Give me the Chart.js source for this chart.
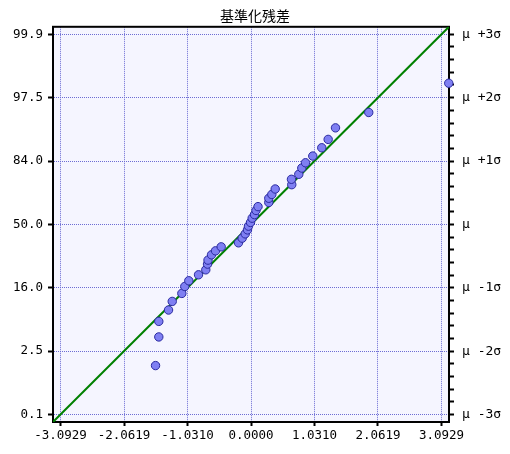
<!DOCTYPE html>
<html>
<head>
<meta charset="utf-8">
<script src="https://cdn.jsdelivr.net/npm/chart.js@4/dist/chart.umd.min.js"></script>
<style>
  html, body { margin: 0; padding: 0; background: #fff; }
  canvas { display: block; }
</style>
</head>
<body>
<canvas id="npp" width="510" height="454"></canvas>
<script>
// standardized residuals (x) and their normal scores (y)
const residuals = [
  -1.550, -1.497, -1.497, -1.339, -1.279, -1.123, -1.075, -1.010, -0.852, -0.734,
  -0.706, -0.698, -0.641, -0.576, -0.484, -0.203, -0.143, -0.094, -0.057, -0.041,
  -0.008, 0.019, 0.057, 0.081, 0.114, 0.289, 0.289, 0.338, 0.393, 0.662,
  0.657, 0.776, 0.825, 0.885, 1.003, 1.149, 1.253, 1.372, 1.912, 3.211
];
const normalScores = [
  -2.297, -1.831, -1.578, -1.393, -1.253, -1.123, -1.010, -0.917, -0.820, -0.739,
  -0.646, -0.581, -0.495, -0.430, -0.365, -0.300, -0.224, -0.154, -0.089, -0.029,
  0.032, 0.101, 0.159, 0.227, 0.289, 0.357, 0.425, 0.487, 0.576, 0.646,
  0.734, 0.815, 0.917, 1.003, 1.112, 1.247, 1.383, 1.571, 1.821, 2.297
];

const axisRange = [-3.215, 3.215];
const tickVals = [-3.0929, -2.0619, -1.0310, 0, 1.0310, 2.0619, 3.0929];
const xTickLabels = ['-3.0929', '-2.0619', '-1.0310', '0.0000', '1.0310', '2.0619', '3.0929'];
const pctLabels = ['0.1', '2.5', '16.0', '50.0', '84.0', '97.5', '99.9'];
const sigmaLabels = ['\u03bc -3\u03c3', '\u03bc -2\u03c3', '\u03bc -1\u03c3', '\u03bc', '\u03bc +1\u03c3', '\u03bc +2\u03c3', '\u03bc +3\u03c3'];

const points = residuals.map((r, i) => ({x: r, y: normalScores[i]}));
const refLine = axisRange.map(v => ({x: v, y: v}));

// right axis gets 4 minor ticks between each labelled one
const minorSteps = 5;
const sigmaTicks = [];
for (let i = 0; i < tickVals.length - 1; i++) {
  for (let k = 0; k < minorSteps; k++) {
    sigmaTicks.push(tickVals[i] + (tickVals[i + 1] - tickVals[i]) * k / minorSteps);
  }
}
sigmaTicks.push(tickVals[tickVals.length - 1]);

const tickFont = {family: '"DejaVu Sans Mono", monospace', size: 12.5};
const gridColor = '#6c6cd4';

const plotFrame = {
  id: 'plotFrame',
  beforeDraw(chart) {
    const {ctx, chartArea: a} = chart;
    ctx.save();
    ctx.fillStyle = '#f5f5ff';
    ctx.fillRect(a.left, a.top, a.right - a.left, a.bottom - a.top);
    ctx.restore();
  },
  beforeDatasetsDraw(chart) {
    const {ctx, chartArea: a} = chart;
    ctx.save();
    ctx.strokeStyle = '#000';
    ctx.lineWidth = 2;
    ctx.strokeRect(a.left, a.top, a.right - a.left, a.bottom - a.top);
    ctx.restore();
  }
};

new Chart(document.getElementById('npp'), {
  type: 'scatter',
  data: {
    datasets: [{
      data: points,
      backgroundColor: '#7f7ff2',
      borderColor: '#2a2aa0',
      borderWidth: 1,
      pointRadius: 4.2,
      clip: false
    }, {
      type: 'line',
      data: refLine,
      borderColor: '#008000',
      borderWidth: 2,
      pointRadius: 0,
      fill: false
    }]
  },
  options: {
    responsive: false,
    animation: false,
    events: [],
    layout: { padding: 0 },
    plugins: {
      legend: { display: false },
      tooltip: { enabled: false },
      title: {
        display: true,
        text: '基準化残差',
        color: '#000',
        font: {family: '"Noto Sans CJK JP", sans-serif', size: 14, weight: 'normal'},
        padding: {top: 7, bottom: 3}
      }
    },
    scales: {
      x: {
        type: 'linear',
        min: axisRange[0],
        max: axisRange[1],
        afterBuildTicks: s => { s.ticks = tickVals.map(v => ({value: v})); },
        afterFit: s => { s.height = 32; },
        ticks: {
          callback: (v, i) => xTickLabels[i],
          font: tickFont,
          color: '#000',
          padding: 2,
          maxRotation: 0
        },
        grid: {
          color: gridColor,
          lineWidth: 1,
          tickColor: '#000',
          tickWidth: 2,
          tickLength: 4
        },
        border: { color: '#000', width: 2, dash: [1, 1] }
      },
      y: {
        type: 'linear',
        position: 'left',
        min: axisRange[0],
        max: axisRange[1],
        afterBuildTicks: s => { s.ticks = tickVals.map(v => ({value: v})); },
        afterFit: s => { s.width = 53; },
        ticks: {
          callback: (v, i) => pctLabels[i],
          font: tickFont,
          color: '#000',
          padding: 5
        },
        grid: {
          color: gridColor,
          lineWidth: 1,
          tickColor: '#000',
          tickWidth: 2,
          tickLength: 5
        },
        border: { color: '#000', width: 2, dash: [1, 1] }
      },
      y2: {
        type: 'linear',
        position: 'right',
        min: axisRange[0],
        max: axisRange[1],
        afterBuildTicks: s => { s.ticks = sigmaTicks.map(v => ({value: v})); },
        afterFit: s => { s.width = 61; },
        ticks: {
          callback: (v, i) => (i % minorSteps === 0 ? sigmaLabels[i / minorSteps] : ''),
          font: {family: '"DejaVu Sans Mono", monospace', size: 13},
          color: '#000',
          padding: 8,
          autoSkip: false
        },
        grid: {
          drawOnChartArea: false,
          tickColor: '#000',
          tickWidth: 2,
          tickLength: 5
        },
        border: { color: '#000', width: 2 }
      }
    }
  },
  plugins: [plotFrame]
});
</script>
</body>
</html>
